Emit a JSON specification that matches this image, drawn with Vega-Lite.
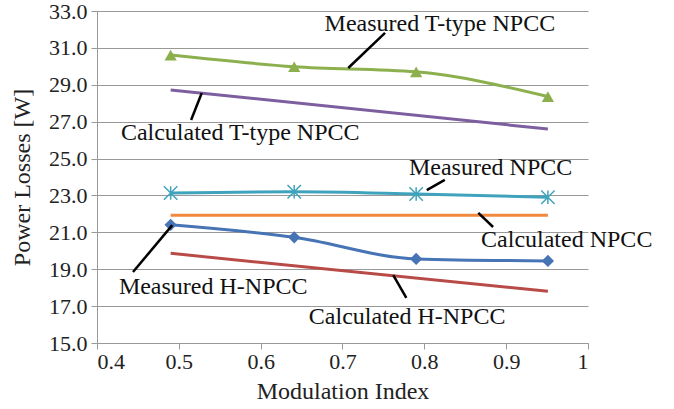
{
  "$schema": "https://vega.github.io/schema/vega-lite/v6.json",
  "autosize": "none",
  "width": 491,
  "height": 332,
  "padding": {"left": 97, "top": 11, "right": 86, "bottom": 66},
  "background": "white",
  "config": {
    "view": {"stroke": null},
    "font": "'Liberation Serif', 'Times New Roman', 'DejaVu Serif', serif",
    "axis": {"labelFont": "'Liberation Serif', 'Times New Roman', 'DejaVu Serif', serif", "titleFont": "'Liberation Serif', 'Times New Roman', 'DejaVu Serif', serif", "labelColor": "#222", "titleColor": "#222", "titleFontWeight": "normal", "labelFontSize": 22, "titleFontSize": 24, "domainColor": "#999", "tickColor": "#999", "gridColor": "#999", "labelOverlap": false}
  },
  "datasets": {
    "series": [
      {"series": "Measured T-type NPCC", "m": 0.49, "p": 30.61},
      {"series": "Measured T-type NPCC", "m": 0.641, "p": 29.98},
      {"series": "Measured T-type NPCC", "m": 0.79, "p": 29.7},
      {"series": "Measured T-type NPCC", "m": 0.951, "p": 28.36},
      {"series": "Calculated T-type NPCC", "m": 0.49, "p": 28.72},
      {"series": "Calculated T-type NPCC", "m": 0.951, "p": 26.6},
      {"series": "Measured NPCC", "m": 0.49, "p": 23.13},
      {"series": "Measured NPCC", "m": 0.641, "p": 23.2},
      {"series": "Measured NPCC", "m": 0.79, "p": 23.08},
      {"series": "Measured NPCC", "m": 0.951, "p": 22.9},
      {"series": "Calculated NPCC", "m": 0.49, "p": 21.93},
      {"series": "Calculated NPCC", "m": 0.951, "p": 21.93},
      {"series": "Measured H-NPCC", "m": 0.49, "p": 21.41},
      {"series": "Measured H-NPCC", "m": 0.641, "p": 20.73},
      {"series": "Measured H-NPCC", "m": 0.79, "p": 19.56},
      {"series": "Measured H-NPCC", "m": 0.951, "p": 19.45},
      {"series": "Calculated H-NPCC", "m": 0.49, "p": 19.86},
      {"series": "Calculated H-NPCC", "m": 0.951, "p": 17.8}
    ],
    "labels": [
      {"label": "Measured T-type NPCC", "m": 0.819, "p": 32.3, "m1": 0.707, "p1": 29.91, "m2": 0.752, "p2": 31.81},
      {"label": "Calculated T-type NPCC", "m": 0.575, "p": 26.38, "m1": 0.515, "p1": 27.09, "m2": 0.528, "p2": 28.55},
      {"label": "Measured NPCC", "m": 0.881, "p": 24.49, "m1": 0.803, "p1": 23.29, "m2": 0.825, "p2": 23.84},
      {"label": "Calculated NPCC", "m": 0.974, "p": 20.58, "m1": 0.866, "p1": 22.05, "m2": 0.884, "p2": 21.29},
      {"label": "Measured H-NPCC", "m": 0.542, "p": 18.03, "m1": 0.444, "p1": 18.85, "m2": 0.492, "p2": 21.39},
      {"label": "Calculated H-NPCC", "m": 0.779, "p": 16.41, "m1": 0.762, "p1": 18.68, "m2": 0.778, "p2": 17.44}
    ]
  },
  "layer": [
    {
      "data": {"name": "series"},
      "mark": {"type": "line", "strokeWidth": 3, "interpolate": "monotone"},
      "encoding": {
        "x": {"field": "m", "type": "quantitative", "scale": {"domain": [0.4, 1], "nice": false, "zero": false},
              "axis": {"title": "Modulation Index", "values": [0.4, 0.5, 0.6, 0.7, 0.8, 0.9, 1], "tickCount": 20, "labelExpr": "datum.value == 1 ? '1' : format(datum.value, '.1f')", "grid": false, "tickSize": 6, "labelPadding": 2, "titlePadding": 7}},
        "y": {"field": "p", "type": "quantitative", "scale": {"domain": [15, 33], "nice": false, "zero": false},
              "axis": {"title": "Power Losses [W]", "values": [15, 17, 19, 21, 23, 25, 27, 29, 31, 33], "tickCount": 20, "format": ".1f", "tickSize": 6, "labelPadding": 4, "titlePadding": 14}},
        "color": {"field": "series", "type": "nominal", "legend": null,
                  "scale": {"domain": ["Measured T-type NPCC", "Calculated T-type NPCC", "Measured NPCC", "Calculated NPCC", "Measured H-NPCC", "Calculated H-NPCC"],
                            "range": ["#8cb04e", "#7d5fa0", "#3fa3bd", "#f0893e", "#4674b5", "#b84a47"]}}
      }
    },
    {
      "data": {"name": "series"},
      "transform": [{"filter": "datum.series == 'Measured T-type NPCC' || datum.series == 'Measured H-NPCC'"}],
      "mark": {"type": "point", "filled": true, "opacity": 1, "size": 150},
      "encoding": {
        "x": {"field": "m", "type": "quantitative"},
        "y": {"field": "p", "type": "quantitative"},
        "shape": {"field": "series", "type": "nominal", "legend": null, "scale": {"domain": ["Measured T-type NPCC", "Measured H-NPCC"], "range": ["triangle-up", "diamond"]}},
        "color": {"field": "series", "type": "nominal", "legend": null}
      }
    },
    {
      "data": {"name": "series"},
      "transform": [{"filter": "datum.series == 'Measured NPCC'"}],
      "mark": {"type": "point", "filled": false, "opacity": 1, "size": 180, "strokeWidth": 1.5, "shape": "M-1,-1L1,1M1,-1L-1,1M0,-1L0,1"},
      "encoding": {
        "x": {"field": "m", "type": "quantitative"},
        "y": {"field": "p", "type": "quantitative"},
        "color": {"field": "series", "type": "nominal", "legend": null}
      }
    },
    {
      "data": {"name": "labels"},
      "mark": {"type": "rule", "color": "black", "strokeWidth": 2.5},
      "encoding": {
        "x": {"field": "m1", "type": "quantitative"},
        "y": {"field": "p1", "type": "quantitative"},
        "x2": {"field": "m2"},
        "y2": {"field": "p2"}
      }
    },
    {
      "data": {"name": "labels"},
      "mark": {"type": "text", "font": "'Liberation Serif', 'Times New Roman', 'DejaVu Serif', serif", "fontSize": 24, "color": "#111", "align": "center", "baseline": "middle"},
      "encoding": {
        "x": {"field": "m", "type": "quantitative"},
        "y": {"field": "p", "type": "quantitative"},
        "text": {"field": "label"}
      }
    }
  ]
}
